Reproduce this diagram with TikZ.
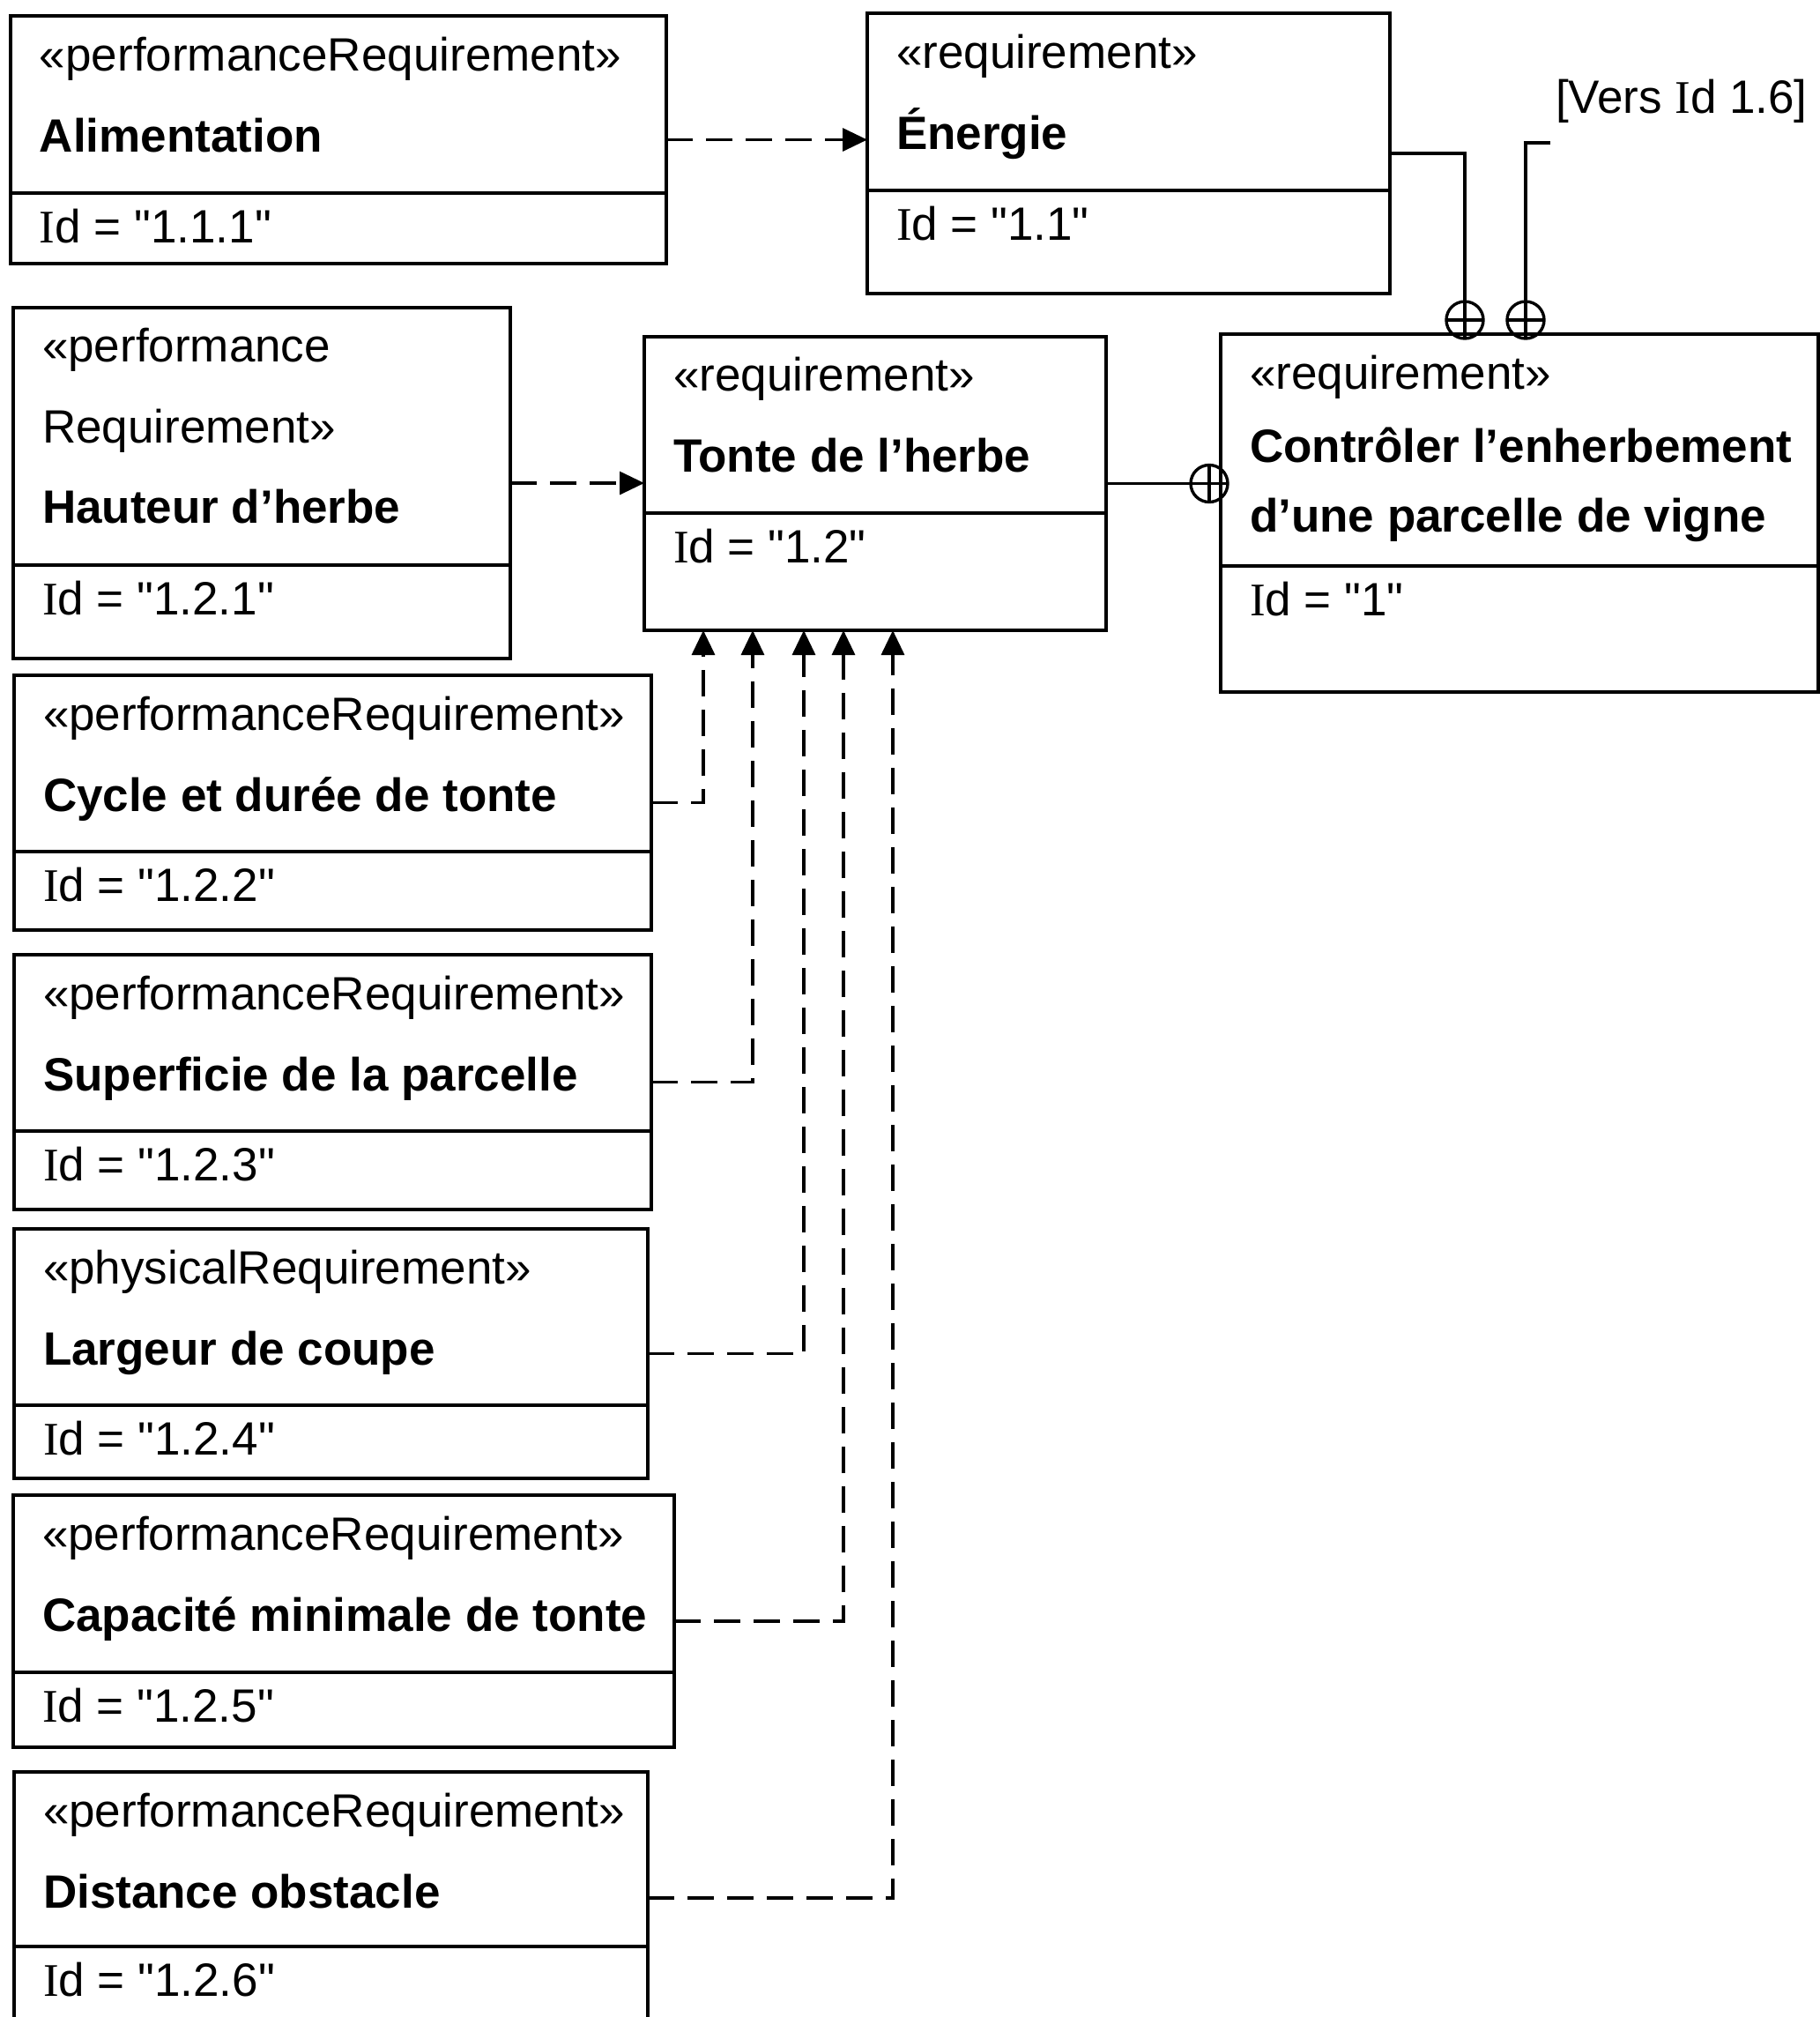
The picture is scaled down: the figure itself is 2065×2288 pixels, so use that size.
\documentclass[tikz,border=0pt]{standalone}
\usepackage{fontspec}
\setmainfont{Liberation Sans}[Ligatures=TeXOff]
\newfontfamily\serifI{Liberation Serif}[Ligatures=TeXOff]
\usetikzlibrary{arrows.meta,calc}
\newcommand\IdI{{\serifI I}}
\newcommand\dq{{\char34}}
\tikzset{
  reqbox/.style={draw, rectangle, line width=1.7pt, outer sep=0pt, inner sep=0pt},
  sepline/.style={line width=1.7pt},
  txt/.style={anchor=base west, inner sep=0pt, outer sep=0pt, font=\fontsize{26.5pt}{32pt}\selectfont},
  nametxt/.style={txt, font=\fontsize{26.5pt}{32pt}\selectfont\bfseries},
  dep/.style={line width=1.7pt, dash pattern=on 15pt off 7.5pt, -{Triangle[length=14pt,width=13pt]}},
  contain/.style={line width=1.7pt},
  oplus/.style={circle, draw, line width=1.7pt, minimum size=21pt, inner sep=0pt, outer sep=0pt,
    path picture={\draw[line width=1.7pt] (path picture bounding box.north) -- (path picture bounding box.south)
      (path picture bounding box.west) -- (path picture bounding box.east);}},
}
\newcommand\reqbox[6]{%
  \node[reqbox, minimum width={(#4-#2)*0.5pt}, minimum height={(#5-#3)*0.5pt}, anchor=north west] (#1) at (#2,#3) {};
  \draw[sepline] (#2,#6) -- (#4,#6);
}
\begin{document}
\begin{tikzpicture}[x=0.5pt,y=-0.5pt]
\useasboundingbox (0,0) rectangle (2065,2288);
\clip (0,0) rectangle (2065,2288);

% boxes
\reqbox{alim}{12}{18}{756}{299}{219}
\reqbox{ener}{984}{15}{1577}{333}{216}
\reqbox{haut}{15}{349}{579}{747}{641}
\reqbox{tonte}{731}{382}{1255}{715}{582}
\reqbox{ctrl}{1385}{379}{2063}{785}{642}
\reqbox{cycle}{16}{766}{739}{1055}{966}
\reqbox{sup}{16}{1083}{739}{1372}{1283}
\reqbox{larg}{16}{1394}{735}{1677}{1594}
\reqbox{capa}{15}{1696}{765}{1982}{1897}
\reqbox{dist}{16}{2010}{735}{2296}{2208}

% texts
\node[txt] (alim-s) at (45,80) {«performanceRequirement»};
\node[nametxt] (alim-n) at (45,172) {Alimentation};
\node[txt] (alim-i) at (45,275) {\IdI d = "1.1.1"};

\node[txt] (ener-s) at (1017,77) {«requirement»};
\node[nametxt] (ener-n) at (1017,169) {Énergie};
\node[txt] (ener-i) at (1017,272) {\IdI d = "1.1"};

\node[txt] (haut-s) at (48,410) {«performance};
\node[txt] (haut-s2) at (48,502) {Requirement»};
\node[nametxt] (haut-n) at (48,593) {Hauteur d’herbe};
\node[txt] (haut-i) at (48,697) {\IdI d = "1.2.1"};

\node[txt] (tonte-s) at (764,443) {«requirement»};
\node[nametxt] (tonte-n) at (764,535) {Tonte de l’herbe};
\node[txt] (tonte-i) at (764,638) {\IdI d = "1.2"};

\node[txt] (ctrl-s) at (1418,441) {«requirement»};
\node[nametxt] (ctrl-n) at (1418,524) {Contrôler l’enherbement};
\node[nametxt] (ctrl-n2) at (1418,603) {d’une parcelle de vigne};
\node[txt] (ctrl-i) at (1418,698) {\IdI d = "1"};

\node[txt] (cycle-s) at (49,828) {«performanceRequirement»};
\node[nametxt] (cycle-n) at (49,920) {Cycle et durée de tonte};
\node[txt] (cycle-i) at (49,1022) {\IdI d = "1.2.2"};

\node[txt] (sup-s) at (49,1145) {«performanceRequirement»};
\node[nametxt] (sup-n) at (49,1237) {Superficie de la parcelle};
\node[txt] (sup-i) at (49,1339) {\IdI d = "1.2.3"};

\node[txt] (larg-s) at (49,1456) {«physicalRequirement»};
\node[nametxt] (larg-n) at (49,1548) {Largeur de coupe};
\node[txt] (larg-i) at (49,1650) {\IdI d = "1.2.4"};

\node[txt] (capa-s) at (48,1758) {«performanceRequirement»};
\node[nametxt] (capa-n) at (48,1850) {Capacité minimale de tonte};
\node[txt] (capa-i) at (48,1953) {\IdI d = "1.2.5"};

\node[txt] (dist-s) at (49,2072) {«performanceRequirement»};
\node[nametxt] (dist-n) at (49,2164) {Distance obstacle};
\node[txt] (dist-i) at (49,2264) {\IdI d = "1.2.6"};

\node[txt] (vers-l) at (1765,128) {[Vers \IdI d 1.6]};

% containment symbols
\node[oplus] (c1) at (1662,363) {};
\node[oplus] (c2) at (1731,363) {};
\node[oplus] (c3) at (1372,548.5) {};
\coordinate (vers) at (1759,162);

% containment lines
\draw[contain] (ener.east) -| (c1.north);
\draw[contain] (vers) -| (c2.north);
\draw[contain] (tonte.east) -- (c3.west);

% derive dependencies
\draw[dep] (alim.east) -- (alim.east -| ener.west);
\draw[dep] (haut.east) -- (haut.east -| tonte.west);
\draw[dep] (cycle.east) -| ($(tonte.south west)+(67,0)$);
\draw[dep] (sup.east) -| ($(tonte.south west)+(123,0)$);
\draw[dep] (larg.east) -| ($(tonte.south west)+(181,0)$);
\draw[dep] (capa.east) -| ($(tonte.south west)+(226,0)$);
\draw[dep] (dist.east) -| ($(tonte.south west)+(282,0)$);
\end{tikzpicture}
\end{document}
